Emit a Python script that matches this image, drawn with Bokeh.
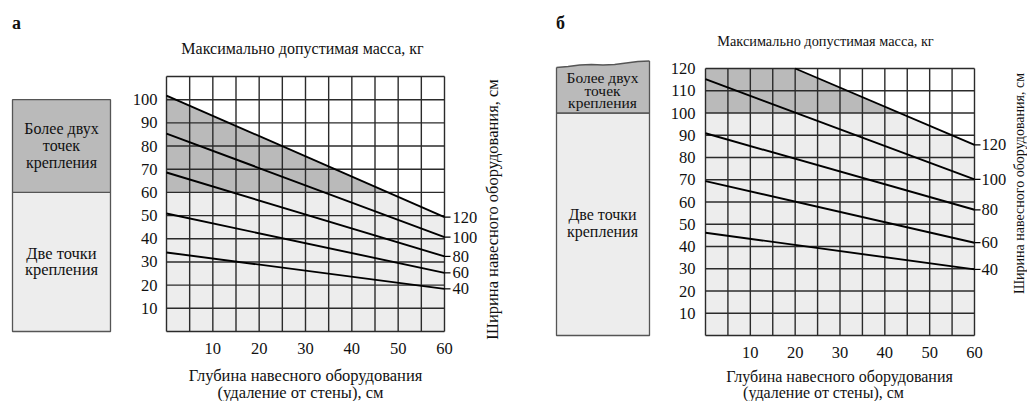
import math
from bokeh.plotting import figure
from bokeh.layouts import row
from bokeh.models import Range1d
from bokeh.core.properties import value
from bokeh.embed import file_html
from bokeh.resources import INLINE

# ---------------- data ----------------
depth_ticks = [10, 20, 30, 40, 50, 60]
a_mass_ticks = [10, 20, 30, 40, 50, 60, 70, 80, 90, 100]
b_mass_ticks = [10, 20, 30, 40, 50, 60, 70, 80, 90, 100, 110, 120]
widths = [120, 100, 80, 60, 40]

# panel а: max mass (kg) at depth 0 and 60 cm for each equipment width
a_depth = {120: [0, 60], 100: [0, 60], 80: [0, 60], 60: [0, 60], 40: [0, 60]}
a_mass = {120: [101.8, 49.3], 100: [85.4, 40.7], 80: [68.6, 32.4],
          60: [50.9, 25.3], 40: [34.1, 18.4]}
a_split = 60      # above: more than two mounting points
a_box_top = 100

# panel б
b_depth = {120: [20, 60], 100: [0, 60], 80: [0, 60], 60: [0, 60], 40: [0, 60]}
b_mass = {120: [120, 85.7], 100: [115.2, 70.2], 80: [90.9, 56.5],
          60: [69.4, 41.7], 40: [46.2, 29.7]}
b_split = 100

FONT = "'Liberation Serif', 'Times New Roman', 'DejaVu Serif', serif"
GRID_C = "#2b2b2b"
DARK = "#bababa"
LIGHT = "#ededed"
BOX_LINE = "#555555"
H = 401


def band(xs, ys, lo, hi, x_start=0):
    """polygon of the region under a polyline, clipped to [lo, hi]"""
    px, py = [], []
    if xs[0] > x_start:
        px += [x_start, x_start]
        py += [lo, hi]
    else:
        px.append(xs[0]); py.append(lo)
    for i in range(len(xs)):
        px.append(xs[i]); py.append(min(max(ys[i], lo), hi))
        if i < len(xs) - 1:
            x0, y0, x1, y1 = xs[i], ys[i], xs[i + 1], ys[i + 1]
            cr = []
            for lev in (lo, hi):
                if (y0 - lev) * (y1 - lev) < 0:
                    t = (lev - y0) / (y1 - y0)
                    cr.append((t, x0 + t * (x1 - x0), lev))
            for t, cx, cy in sorted(cr):
                px.append(cx); py.append(cy)
    px.append(xs[-1]); py.append(lo)
    return px, py


def make_panel(W, off_x, gl, gr, gt, gb, ymax, depth, mass, split, cfg):
    sx = (gr - gl) / 60.0
    sy = (gb - gt) / ymax
    X = lambda px: (px - gl) / sx
    Y = lambda py: (gb - py) / sy
    p = figure(width=W, height=H, x_range=Range1d(X(off_x), X(off_x + W)),
               y_range=Range1d(Y(H), Y(0)), output_backend="svg",
               toolbar_location=None, min_border=0, title=None,
               x_axis_type=None, y_axis_type=None, outline_line_color=None)
    p.grid.visible = False
    p.background_fill_color = "white"

    # fills under the widest (120 cm) line
    bx, by = band(depth[120], mass[120], 0, split)
    p.patch(bx, by, fill_color=LIGHT, line_color=None)
    bx, by = band(depth[120], mass[120], split, ymax)
    p.patch(bx, by, fill_color=DARK, line_color=None)

    # grid
    gx = list(range(0, 61, 5))
    gy = list(range(0, ymax + 1, 10))
    p.segment(x0=gx, y0=[0] * len(gx), x1=gx, y1=[ymax] * len(gx),
              line_color=GRID_C, line_width=1.4)
    p.segment(x0=[0] * len(gy), y0=gy, x1=[60] * len(gy), y1=gy,
              line_color=GRID_C, line_width=1.4)

    # curves + end ticks + labels
    tick_len = 6 / sx
    for w in widths:
        p.line(depth[w], mass[w], line_color="black", line_width=1.9)
        p.segment(x0=[60], y0=[mass[w][-1]], x1=[60 + tick_len], y1=[mass[w][-1]],
                  line_color="black", line_width=1.2)
    p.text(x=[X(cfg["wlab_x"])] * len(widths), y=[mass[w][-1] for w in widths],
           text=[str(w) for w in widths], text_font=value(FONT),
           text_font_size=cfg["tick_fs"], text_baseline="middle", text_align="left",
           text_color="#111111")

    # axis tick labels
    yt = cfg["yticks"]
    p.text(x=[X(cfg["ytick_x"])] * len(yt), y=yt, text=[str(v) for v in yt],
           text_font=value(FONT), text_font_size=cfg["tick_fs"],
           text_baseline="middle", text_align="right", text_color="#111111")
    p.text(x=depth_ticks, y=[Y(cfg["xtick_y"])] * len(depth_ticks),
           text=[str(v) for v in depth_ticks], text_font=value(FONT),
           text_font_size=cfg["tick_fs"], text_baseline="middle",
           text_align="center", text_color="#111111")

    # box on the left
    bl, br = X(cfg["box_l"]), X(cfg["box_r"])
    p.quad(left=[bl], right=[br], bottom=[0], top=[split], fill_color=LIGHT,
           line_color=BOX_LINE, line_width=1.3)
    if cfg.get("wavy"):
        top_px = cfg["wavy"]
        n = len(top_px)
        xs = [bl + (br - bl) * i / (n - 1) for i in range(n)]
        ys = [Y(v) for v in top_px]
        p.patch([bl] + xs + [br], [split] + ys + [split], fill_color=DARK,
                line_color=None)
        p.line(xs, ys, line_color=BOX_LINE, line_width=1.3)
        p.segment(x0=[bl, br], y0=[split, split], x1=[bl, br], y1=[ys[0], ys[-1]],
                  line_color=BOX_LINE, line_width=1.3)
        p.segment(x0=[bl], y0=[split], x1=[br], y1=[split],
                  line_color=BOX_LINE, line_width=1.3)
    else:
        p.quad(left=[bl], right=[br], bottom=[split], top=[a_box_top],
               fill_color=DARK, line_color=BOX_LINE, line_width=1.3)

    # free texts
    for (t, px, py, fs, style, align, ang) in cfg["texts"]:
        p.text(x=[X(px)], y=[Y(py)], text=[t], text_font=value(FONT),
               text_font_size=fs, text_font_style=style, text_align=align,
               text_baseline="middle", angle=ang, text_color="#111111")
    return p


ROT = math.pi / 2
cfg_a = dict(
    yticks=a_mass_ticks, tick_fs="16.5px", ytick_x=157, xtick_y=348, wlab_x=452,
    box_l=12, box_r=110,
    texts=[
        ("а", 16, 22, "18px", "bold", "center", 0),
        ("Максимально допустимая масса, кг", 302, 48, "16px", "normal", "center", 0),
        ("Более двух", 61, 128, "16px", "normal", "center", 0),
        ("точек", 61, 145, "16px", "normal", "center", 0),
        ("крепления", 61, 162, "16px", "normal", "center", 0),
        ("Две точки", 61, 253, "16.5px", "normal", "center", 0),
        ("крепления", 61, 269, "16.5px", "normal", "center", 0),
        ("Глубина навесного оборудования", 305, 375, "16.5px", "normal", "center", 0),
        ("(удаление от стены), см", 300, 392, "16.5px", "normal", "center", 0),
        ("Ширина навесного оборудования, см", 492, 209, "16.5px", "normal", "center", ROT),
    ])
cfg_b = dict(
    yticks=b_mass_ticks, tick_fs="16.5px", ytick_x=695, xtick_y=352, wlab_x=981,
    box_l=556, box_r=649, wavy=[67, 66, 64.5, 64, 64.5, 64, 62.5, 61, 60.5],
    texts=[
        ("б", 560, 22, "18px", "bold", "center", 0),
        ("Максимально допустимая масса, кг", 825, 40, "14.3px", "normal", "center", 0),
        ("Более двух", 602, 77, "15.5px", "normal", "center", 0),
        ("точек", 602, 89.5, "15.5px", "normal", "center", 0),
        ("крепления", 602, 102, "15.5px", "normal", "center", 0),
        ("Две точки", 602, 214, "16px", "normal", "center", 0),
        ("крепления", 602, 231, "16px", "normal", "center", 0),
        ("Глубина навесного оборудования", 839, 376, "16px", "normal", "center", 0),
        ("(удаление от стены), см", 823, 392, "16px", "normal", "center", 0),
        ("Ширина навесного оборудования, см", 1019, 183, "14px", "normal", "center", ROT),
    ])

pa = make_panel(518, 0, 166, 444, 76, 331, 110, a_depth, a_mass, a_split, cfg_a)
pb = make_panel(509, 518, 705, 974, 68, 335, 120, b_depth, b_mass, b_split, cfg_b)

layout = row(pa, pb, spacing=0)
open("out.html", "w").write(file_html(layout, INLINE))
